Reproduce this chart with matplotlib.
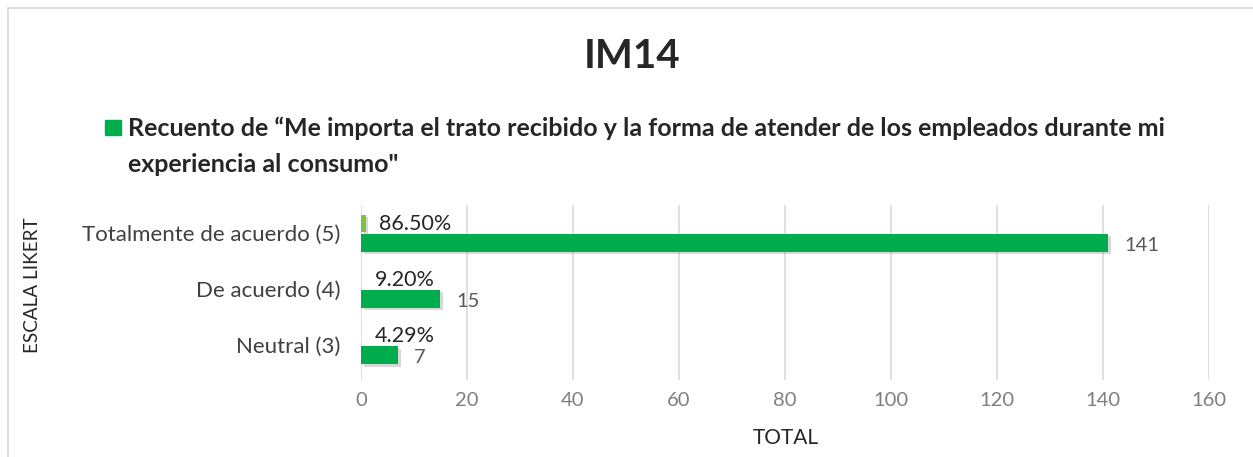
import matplotlib
matplotlib.use('Agg')
import matplotlib.pyplot as plt
import matplotlib.patheffects as pe
from matplotlib.patches import Rectangle
import numpy as np

# data
categories = ['Neutral (3)', 'De acuerdo (4)', 'Totalmente de acuerdo (5)']
counts = [7, 15, 141]
pcts = [4.29, 9.20, 86.50]
xticks = [0, 20, 40, 60, 80, 100, 120, 140, 160]

plt.rcParams['font.family'] = ['Lato', 'DejaVu Sans']

fig = plt.figure(figsize=(12.53, 4.57), dpi=100)
ax = fig.add_axes([0.2881, 0.1685, 0.6768, 0.3829])

y = np.arange(len(categories))
h = 0.32
off = 0.17
shadow = [pe.SimplePatchShadow(offset=(2, -2), alpha=0.3, shadow_rgbFace='#7f7f7f'), pe.Normal()]

cnt_bars = ax.barh(y - off, counts, height=h, color='#00AD4E', zorder=3)
pct_bars = ax.barh(y + off, [p / 100 for p in pcts], height=h, color='#7DC242', zorder=3)
for b in list(cnt_bars) + list(pct_bars):
    b.set_path_effects(shadow)

for yi, c in zip(y, counts):
    ax.annotate(str(c), (c, yi - off), xytext=(11.5, -2), textcoords='offset points',
                ha='left', va='center', fontsize=14.5, color='#595959')
for yi, p in zip(y, pcts):
    ax.annotate(f"{p:.2f}%", (p / 100, yi + off), xytext=(10, 0), textcoords='offset points',
                ha='left', va='center', fontsize=15.5, color='#262626')

ax.set_xlim(0, 160)
ax.set_ylim(-0.62, 2.5)
ax.set_xticks(xticks)
ax.set_yticks(y)
ax.set_yticklabels(categories, fontsize=16, color='#404040')
ax.tick_params(axis='x', labelsize=14.5, labelcolor='#7f7f7f', length=0, pad=9)
ax.tick_params(axis='y', length=0, pad=15)
ax.grid(axis='x', color='#d9d9d9', linewidth=1.2, zorder=0)
for s in ax.spines.values():
    s.set_visible(False)

fig.text(786 / 1253, 1 - 438 / 457, 'TOTAL', ha='center', va='center', fontsize=15, color='#262626')
fig.text(32 / 1253, 1 - 285 / 457, 'ESCALA LIKERT', rotation=90, ha='center', va='center',
         fontsize=13.6, color='#262626')

fig.text(632 / 1253, 1 - 56 / 457, 'IM14', ha='center', va='center', fontsize=29,
         fontweight='bold', color='#262626')

# legend entry (series name)
fig.patches.append(Rectangle((105 / 1253, 1 - 135 / 457), 16 / 1253, 15 / 457,
                             transform=fig.transFigure, color='#00AD4E'))
fig.text(128 / 1253, 1 - 128 / 457,
         'Recuento de \u201cMe importa el trato recibido y la forma de atender de los empleados durante mi',
         ha='left', va='center', fontsize=18, fontweight='bold', color='#262626')
fig.text(128 / 1253, 1 - 165 / 457, 'experiencia al consumo"',
         ha='left', va='center', fontsize=18, fontweight='bold', color='#262626')

# chart area border
fig.patches.append(Rectangle((8 / 1253, -0.1), 1.2, 1 - 8 / 457 + 0.1, transform=fig.transFigure,
                             fill=False, edgecolor='#d9d9d9', linewidth=1.2))

fig.savefig('out.png', dpi=100)
plt.close()
